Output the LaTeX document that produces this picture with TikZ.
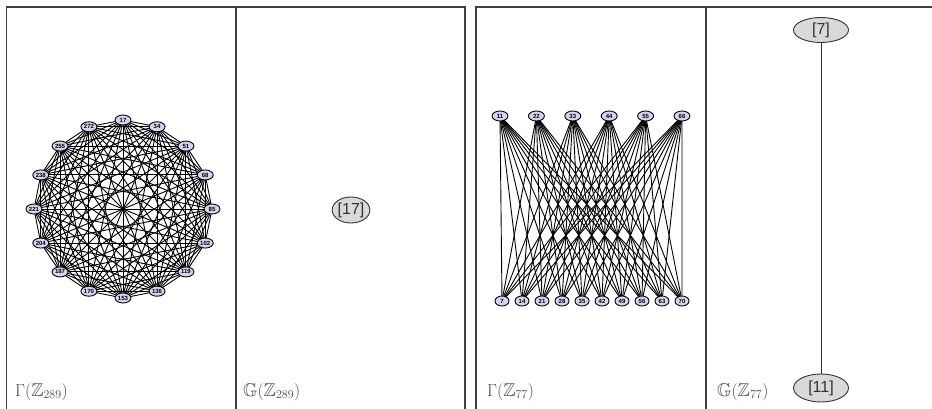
\documentclass[tikz,border=0pt]{standalone}
\usepackage{amssymb}
\usepackage{fontspec}
\newfontfamily\lsans{Liberation Sans}
\usetikzlibrary{shapes.geometric,backgrounds}
\definecolor{lav}{RGB}{214,210,240}
\definecolor{ngray}{RGB}{217,217,217}
\definecolor{lblgray}{RGB}{75,75,75}
\begin{document}
\begin{tikzpicture}[x=1pt,y=-1pt,
  vsmall/.style={ellipse,draw=black,line width=0.9pt,fill=lav,minimum width=16pt,minimum height=10pt,inner sep=0pt,font=\lsans\bfseries\fontsize{6}{7}\selectfont},
  bignode/.style={ellipse,draw=black!80,line width=0.9pt,fill=ngray,inner sep=0pt,font=\lsans\fontsize{16}{18}\selectfont,text=black!80},
  edgeline/.style={line width=0.9pt,draw=black},
  framel/.style={line width=1.4pt,draw=black!75},
  lbl/.style={anchor=base west,text=lblgray,font=\fontsize{18.5}{21}\selectfont,inner sep=0pt}]
\useasboundingbox (0,0) rectangle (932,409);
% frames
\draw[framel] (6.5,409) -- (6.5,7) -- (465,7) -- (465,409);
\draw[framel] (236,7) -- (236,409);
\draw[framel] (476,409) -- (476,7) -- (932,7);
\draw[framel] (706,7) -- (706,409);
% Gamma(Z_289): complete graph K16
\foreach \i in {1,...,16} {
  \pgfmathtruncatemacro\v{17*\i}
  \node[vsmall] (c\i) at ({123+89*cos(90-22.5*(\i-1))},{209-89*sin(90-22.5*(\i-1))}) {\v};
}
\begin{pgfonlayer}{background}
\foreach \i in {1,...,15} {
  \pgfmathtruncatemacro\j{\i+1}
  \foreach \k in {\j,...,16} { \draw[edgeline] (c\i.center) -- (c\k.center); }
}
\end{pgfonlayer}
% Gamma(Z_77): complete bipartite K6,10
\foreach \i in {1,...,6} {
  \pgfmathtruncatemacro\v{11*\i}
  \node[vsmall] (t\i) at ({500+36.4*(\i-1)},116) {\v};
}
\foreach \i in {1,...,10} {
  \pgfmathtruncatemacro\v{7*\i}
  \node[vsmall,minimum width=14pt] (b\i) at ({502+20*(\i-1)},301) {\v};
}
\begin{pgfonlayer}{background}
\foreach \i in {1,...,6} {
  \foreach \k in {1,...,10} { \draw[edgeline] (t\i.center) -- (b\k.center); }
}
\end{pgfonlayer}
% G panels
\node[bignode,minimum width=34pt,minimum height=26pt] (g17) at (351,210) {[17]};
\node[bignode,minimum width=55pt,minimum height=25pt] (g7) at (821,30) {[7]};
\node[bignode,minimum width=55pt,minimum height=28pt] (g11) at (821,388) {[11]};
\draw[line width=1pt,draw=black!80] (g7) -- (g11);
% labels
\node[lbl] (l1) at (15,396) {$\Gamma(\mathbb{Z}_{289})$};
\node[lbl] (l2) at (243,396) {$\mathbb{G}(\mathbb{Z}_{289})$};
\node[lbl] (l3) at (487,396) {$\Gamma(\mathbb{Z}_{77})$};
\node[lbl] (l4) at (717,396) {$\mathbb{G}(\mathbb{Z}_{77})$};
\end{tikzpicture}
\end{document}
